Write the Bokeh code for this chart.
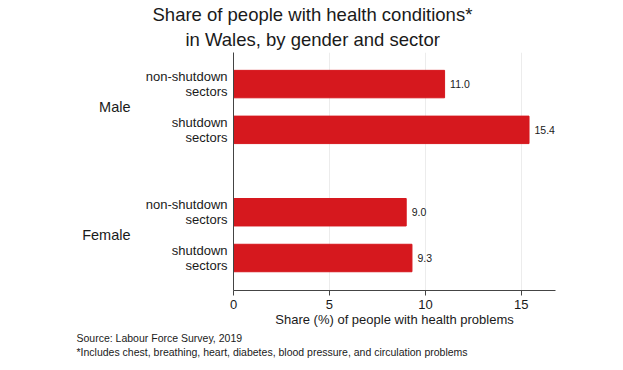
from bokeh.plotting import figure
from bokeh.models import ColumnDataSource, LinearAxis, FixedTicker, Range1d, Title, LabelSet
from bokeh.core.properties import value
from bokeh.embed import file_html
from bokeh.resources import INLINE

title_lines = ["Share of people with health conditions*", "in Wales, by gender and sector"]
groups = ["Male", "Female"]
sectors = ["non-shutdown\nsectors", "shutdown\nsectors"]
male_values = [11.0, 15.4]
female_values = [9.0, 9.3]
x_ticks = [0, 5, 10, 15]
x_label = "Share (%) of people with health problems"
source_note = "Source: Labour Force Survey, 2019"
foot_note = "*Includes chest, breathing, heart, diabetes, blood pressure, and circulation problems"

FONT = "Liberation Sans"
RED = "#d6181e"
TXT = "#1a1a1a"
GAP = 0.8

series = [male_values, female_values]
ys, vals, texts = [], [], []
sub_overrides = {}
group_centers, group_overrides = [], {}
for gi, (g, vs) in enumerate(zip(groups, series)):
    pos = [round(gi * (len(sectors) + GAP) + si, 6) for si in range(len(sectors))]
    for y, v, s in zip(pos, vs, sectors):
        ys.append(y)
        vals.append(v)
        texts.append(f"{v:.1f}")
        sub_overrides[y] = s
    c = round(sum(pos) / len(pos), 6)
    group_centers.append(c)
    group_overrides[c] = g

src = ColumnDataSource(dict(y=ys, v=vals, t=texts))

p = figure(width=623, height=370, output_backend="svg", toolbar_location=None,
           x_range=Range1d(0, 16.78), y_range=Range1d(max(ys) + 0.71, min(ys) - 0.69),
           min_border_left=233, min_border_right=68, min_border_top=52, min_border_bottom=80)
p.title = None
p.outline_line_color = None
p.background_fill_color = "white"

p.hbar(y="y", right="v", left=0, height=0.6, source=src, fill_color=RED, line_color=RED)
p.add_layout(LabelSet(x="v", y="y", text="t", source=src, x_offset=5.5, text_baseline="middle",
                      text_font=value(FONT), text_font_size="10.5px", text_color=TXT))

# x axis
xa = p.xaxis[0]
xa.ticker = FixedTicker(ticks=x_ticks)
xa.axis_label = x_label
xa.axis_label_text_font = FONT
xa.axis_label_text_font_style = "normal"
xa.axis_label_text_font_size = "13px"
xa.axis_label_text_color = TXT
xa.axis_label_standoff = 0
xa.major_label_text_font = FONT
xa.major_label_text_font_size = "13px"
xa.major_label_text_color = TXT
xa.major_label_standoff = 4
xa.major_tick_out = 5
xa.major_tick_in = 0
xa.minor_tick_line_color = None
xa.axis_line_color = "#444444"
xa.major_tick_line_color = "#444444"

# sector axis
ya = p.yaxis[0]
ya.ticker = FixedTicker(ticks=ys)
ya.major_label_overrides = sub_overrides
ya.major_label_text_font = FONT
ya.major_label_text_font_size = "13px"
ya.major_label_text_color = TXT
ya.major_label_text_line_height = 1.0
ya.major_label_standoff = 6
ya.major_tick_out = 0
ya.major_tick_in = 0
ya.major_tick_line_color = None
ya.minor_tick_line_color = None
ya.axis_line_color = "#444444"

# group axis
ga = LinearAxis(ticker=FixedTicker(ticks=group_centers), major_label_overrides=group_overrides)
ga.major_label_text_font = FONT
ga.major_label_text_font_size = "14.5px"
ga.major_label_text_color = TXT
ga.major_label_standoff = 12
ga.major_tick_out = 0
ga.major_tick_in = 0
ga.major_tick_line_color = None
ga.minor_tick_line_color = None
ga.axis_line_color = None
p.add_layout(ga, "left")

p.xgrid.ticker = FixedTicker(ticks=x_ticks)
p.xgrid.grid_line_color = "#ececec"
p.ygrid.visible = False

for line, off, so in [(title_lines[1], -48, 6), (title_lines[0], -81, -2)]:
    p.add_layout(Title(text=line, align="left", offset=off, standoff=so,
                       text_font=FONT, text_font_size="18.5px", text_font_style="normal",
                       text_color=TXT), "above")

for line in [source_note, foot_note]:
    p.add_layout(Title(text=line, align="left", offset=-157, standoff=0,
                       text_font=FONT, text_font_size="10.5px", text_font_style="normal",
                       text_color=TXT), "below")

open("out.html", "w").write(file_html(p, INLINE))
